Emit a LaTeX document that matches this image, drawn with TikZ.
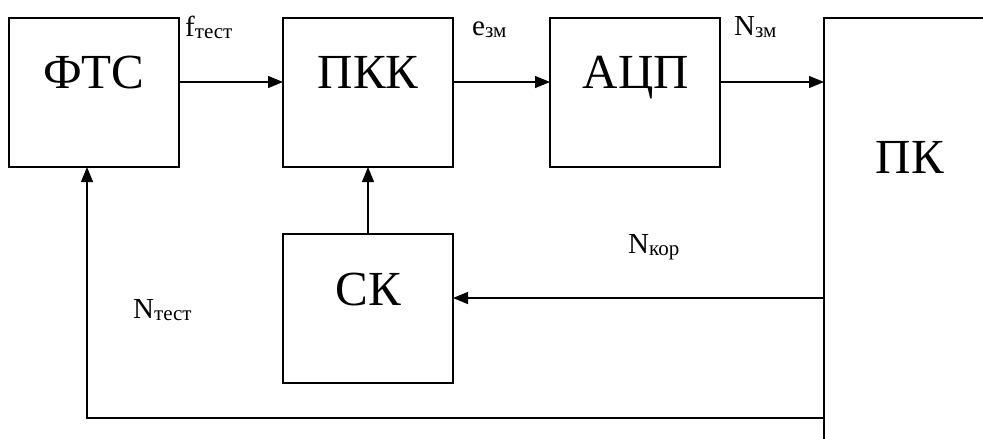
\documentclass[tikz,border=0pt]{standalone}
\usepackage{fontspec}
\setmainfont{Liberation Serif}
\usetikzlibrary{arrows.meta}
\newcommand{\lowsub}[1]{\raisebox{-2pt}{\fontsize{21}{22}\selectfont #1}}
\begin{document}
\begin{tikzpicture}[x=1pt,y=-1pt,
  blk/.style={draw, line width=1.2pt, minimum width=170pt, minimum height=149pt, inner sep=0pt, outer sep=0pt, anchor=north west},
  big/.style={font=\fontsize{49}{50}\selectfont, anchor=base, inner sep=0pt},
  lbl/.style={font=\fontsize{29}{30}\selectfont, anchor=base west, inner sep=0pt},
  arr/.style={line width=1.2pt, -{Triangle[length=15pt,width=12pt]}}]
\clip (0,0) rectangle (983,439);
\fill[white] (0,0) rectangle (983,439);
% blocks
\node[blk] (FTS) at (9,18) {};
\node[blk] (PKK) at (283,18) {};
\node[blk] (ACP) at (550,18) {};
\node[blk] (SK) at (283,234) {};
\node[blk, minimum width=220pt, minimum height=460pt] (PK) at (824,18) {};
% block texts
\node[big] (FTSt) at (94,88) {ФТС};
\node[big] (PKKt) at (368,88) {ПКК};
\node[big] (ACPt) at (636,88) {АЦП};
\node[big] (SKt) at (368,305) {СК};
\node[big] (PKt) at (910,173) {ПК};
% helper coordinates
\coordinate (ytop) at (0,82);
\coordinate (ymid) at (0,298);
\coordinate (ybot) at (0,418);
\coordinate (xl) at (87,0);
% connectors
\draw[arr] (FTS.east |- ytop) -- (PKK.west |- ytop);
\draw[arr] (PKK.east |- ytop) -- (ACP.west |- ytop);
\draw[arr] (ACP.east |- ytop) -- (PK.west |- ytop);
\draw[arr] (SK.north) -- (PKK.south);
\draw[arr] (PK.west |- ymid) -- (SK.east |- ymid);
\draw[arr] (PK.west |- ybot) -| (FTS.south -| xl);
% signal labels
\node[lbl] (lf) at (185,36) {f\lowsub{тест}};
\node[lbl] (le) at (472,35) {e\lowsub{зм}};
\node[lbl] (ln) at (734,35) {N\lowsub{зм}};
\node[lbl] (lk) at (628,253) {N\lowsub{кор}};
\node[lbl] (lt) at (133,318) {N\lowsub{тест}};
\end{tikzpicture}
\end{document}
